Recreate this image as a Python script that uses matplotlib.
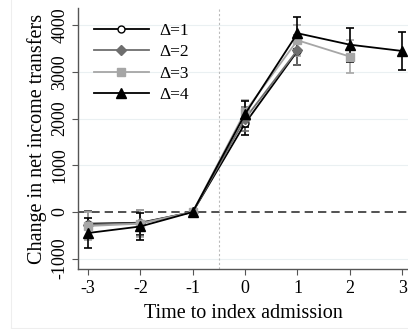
import matplotlib.pyplot as plt
from matplotlib.lines import Line2D

plt.rcParams['font.family'] = ['Liberation Serif', 'DejaVu Serif']
plt.rcParams['axes.unicode_minus'] = False

periods = [-3, -2, -1, 0, 1, 2, 3]
labels = ['Δ=1', 'Δ=2', 'Δ=3', 'Δ=4']

est_d1 = [-250, -230, 0, 1900, 3450]
est_d2 = [-270, -240, 0, 2000, 3470]
est_d3 = [-300, -250, 0, 2150, 3680, 3330]
est_d4 = [-450, -310, 0, 2100, 3830, 3585, 3450]

ci_d1 = [280, 270, 20, 250, 300]
ci_d2 = [290, 280, 20, 260, 320]
ci_d3 = [300, 290, 20, 260, 330, 360]
ci_d4 = [315, 290, 20, 270, 340, 365, 400]

styles = [
    dict(color='black', marker='o', mfc='white', ms=5),
    dict(color='#6e6e6e', marker='D', mfc='#6e6e6e', ms=5),
    dict(color='#a6a6a6', marker='s', mfc='#a6a6a6', ms=6),
    dict(color='black', marker='^', mfc='black', ms=7.5),
]

fig = plt.figure(figsize=(4.08, 3.29), dpi=100)
ax = fig.add_axes([78 / 408, 60 / 329, 1 - 78 / 408, 261 / 329])

# faint outer border
fig.add_artist(Line2D([11 / 408, 11 / 408], [1 / 329, 1], transform=fig.transFigure,
                      color='#eeeeee', lw=0.8))
fig.add_artist(Line2D([11 / 408, 1], [1 / 329, 1 / 329], transform=fig.transFigure,
                      color='#eeeeee', lw=0.8))

for yv in [-1000, 1000, 2000, 3000, 4000]:
    ax.axhline(yv, color='#eaf0f2', lw=0.8, zorder=0)
ax.axhline(0, color='#333333', lw=1.2, ls=(0, (5, 3)), zorder=1)
ax.axvline(-0.5, color='#bbbbbb', lw=0.8, ls=(0, (2, 2)), zorder=1)

series = [(est_d1, ci_d1), (est_d2, ci_d2), (est_d3, ci_d3), (est_d4, ci_d4)]
handles = []
for (est, ci), st, lab in zip(series, styles, labels):
    x = periods[:len(est)]
    ax.errorbar(x, est, yerr=ci, fmt='none', ecolor=st['color'], elinewidth=1.2,
                capsize=2.7, capthick=1.2, zorder=3)
    h, = ax.plot(x, est, color=st['color'], lw=1.3, marker=st['marker'],
                 mfc=st['mfc'], mec=st['color'], ms=st['ms'], zorder=4, label=lab)
    handles.append(h)

ax.set_xlim(-3.19, 3.11)
ax.set_ylim(-1221, 4371)
ax.set_xticks(periods)
ax.set_yticks([-1000, 0, 1000, 2000, 3000, 4000])
ax.set_yticklabels(['-1000', '0', '1000', '2000', '3000', '4000'], rotation=90, va='center')
ax.tick_params(axis='both', labelsize=13, direction='out', length=4, color='#555555')
ax.tick_params(axis='x', pad=4)
ax.tick_params(axis='y', pad=3)
ax.set_xlabel('Time to index admission', fontsize=14.5, labelpad=5)
ax.set_ylabel('Change in net income transfers', fontsize=14.5, labelpad=3)

for s in ['top', 'right']:
    ax.spines[s].set_visible(False)
for s in ['left', 'bottom']:
    ax.spines[s].set_color('#555555')
    ax.spines[s].set_linewidth(1.0)

ax.legend(handles=handles, loc='upper left', bbox_to_anchor=(0.0, 1.003), frameon=False,
          fontsize=12.5, handlelength=3.2, labelspacing=0.3, handletextpad=0.6)

fig.savefig('out.png', dpi=100)
